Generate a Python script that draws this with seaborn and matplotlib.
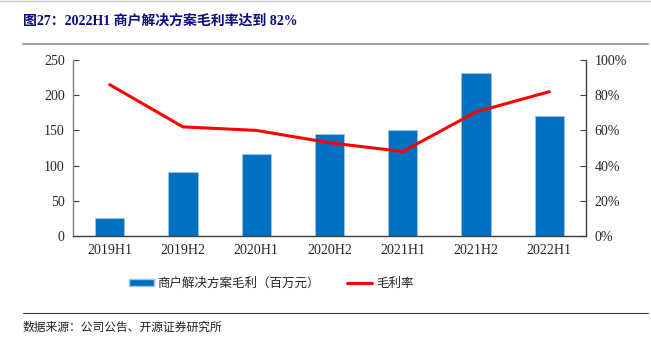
import matplotlib
matplotlib.use("Agg")
import matplotlib.pyplot as plt
import seaborn as sns
import pandas as pd
from matplotlib.lines import Line2D
from matplotlib.patches import Patch
from matplotlib.ticker import FuncFormatter

periods = ["2019H1", "2019H2", "2020H1", "2020H2", "2021H1", "2021H2", "2022H1"]
gross_profit = [26, 91, 116, 145, 150, 231, 171]
gross_margin = [86, 62, 60, 53, 48, 70.5, 82]

title_text = "图27：2022H1 商户解决方案毛利率达到 82%"
bar_label = "商户解决方案毛利（百万元）"
line_label = "毛利率"
source_text = "数据来源：公司公告、开源证券研究所"

sns.set_theme(style="white")
plt.rcParams['font.family'] = ['Liberation Serif', 'Noto Sans CJK SC']
cjk = ['Noto Sans CJK SC', 'DejaVu Sans']
serif_cjk = ['Liberation Serif', 'Noto Sans CJK SC']

df = pd.DataFrame({"period": periods, "profit": gross_profit, "margin": gross_margin})

W, H = 651, 347
fig = plt.figure(figsize=(W / 100, H / 100), dpi=100)
ax = fig.add_axes([73 / W, 1 - 236 / H, (586 - 73) / W, (236 - 60) / H])

sns.barplot(data=df, x="period", y="profit", color="#0070C0", saturation=1,
            width=0.4, ax=ax, edgecolor="#9DC3E6", linewidth=0.6)
ax.set_ylim(0, 250)
ax.set_yticks([0, 50, 100, 150, 200, 250])
ax.set_xlim(-0.5, len(periods) - 0.5)
ax.set_xlabel("")
ax.set_ylabel("")

ax2 = ax.twinx()
sns.lineplot(x=list(range(len(periods))), y=gross_margin, ax=ax2, color="#FF0000",
             linewidth=2.2)
ax2.set_ylim(0, 100)
ax2.set_yticks([0, 20, 40, 60, 80, 100])
ax2.yaxis.set_major_formatter(FuncFormatter(lambda v, p: f"{int(v)}%"))
ax2.set_xlim(-0.5, len(periods) - 0.5)

# x ticks at category boundaries
ax.set_xticks(range(len(periods)))
ax.set_xticklabels(periods)
ax.tick_params(axis="x", which="major", length=0, labelsize=10, pad=6)
ax.set_xticks([i + 0.5 for i in range(len(periods) - 1)], minor=True)
ax.tick_params(axis="x", which="minor", direction="in", length=4, width=0.8, color="#404040")
ax.tick_params(axis="y", direction="in", length=4, width=0.8, labelsize=10, color="#404040", pad=6)
ax2.tick_params(axis="y", direction="in", length=4, width=0.8, labelsize=10, color="#404040", pad=6)

for a in (ax, ax2):
    a.spines["top"].set_visible(False)
    a.grid(False)
ax.spines["left"].set_color("#808080")
ax.spines["bottom"].set_color("#404040")
ax2.spines["right"].set_color("#404040")
ax2.spines["left"].set_visible(False)
ax2.spines["bottom"].set_visible(False)
for s in ("left", "bottom"):
    ax.spines[s].set_linewidth(1.0)
ax2.spines["right"].set_linewidth(1.0)
ax.spines["right"].set_visible(False)

# legend
handles = [Patch(facecolor="#0070C0", edgecolor="#9DC3E6", label=bar_label),
           Line2D([0], [0], color="#FF0000", linewidth=2.2, label=line_label)]
leg = fig.legend(handles=handles, loc="center", bbox_to_anchor=(271 / W, 1 - 283 / H),
                 ncol=2, frameon=False, prop={'family': cjk, 'size': 9},
                 handlelength=2.0, handleheight=0.5, columnspacing=2.2, handletextpad=0.3,
                 borderpad=0, borderaxespad=0)

# title & decorations
fig.text(23 / W, 1 - 21 / H, title_text, fontsize=10, fontweight="bold",
         color="#0B0B80", family=serif_cjk, va="center", ha="left")
fig.add_artist(Line2D([23 / W, 648 / W], [1 - 44 / H, 1 - 44 / H], color="#A0A0A0", linewidth=1.5))
fig.add_artist(Line2D([0, 1], [1 - 1 / H, 1 - 1 / H], color="#C8C8C8", linewidth=1.0))
fig.add_artist(Line2D([23 / W, 648 / W], [1 - 313 / H, 1 - 313 / H], color="#404040", linewidth=0.8))
fig.text(23 / W, 1 - 327 / H, source_text, fontsize=8.5, color="#222222", family=cjk,
         va="center", ha="left")

fig.savefig("out.png", dpi=100, facecolor="white")
